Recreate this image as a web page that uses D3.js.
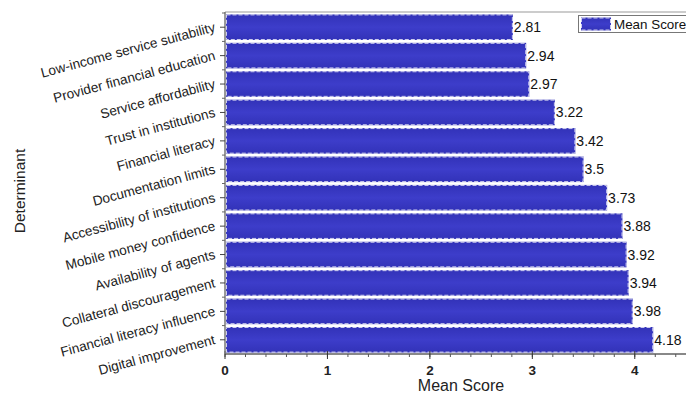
<!DOCTYPE html>
<html><head><meta charset="utf-8">
<script src="https://cdn.jsdelivr.net/npm/d3@7"></script>
<style>body{margin:0;background:#fff}svg{display:block}</style>
</head><body>
<script>
const categories = ["Low-income service suitability","Provider financial education","Service affordability","Trust in institutions","Financial literacy","Documentation limits","Accessibility of institutions","Mobile money confidence","Availability of agents","Collateral discouragement","Financial literacy influence","Digital improvement"];
const values = [2.81,2.94,2.97,3.22,3.42,3.5,3.73,3.88,3.92,3.94,3.98,4.18];
const labels = ["2.81","2.94","2.97","3.22","3.42","3.5","3.73","3.88","3.92","3.94","3.98","4.18"];
const xTicks = [0,1,2,3,4];

const W=686,H=394;
const L=225,R=686,T=13,B=354;
const svg=d3.select("body").append("svg").attr("width",W).attr("height",H)
  .style("font-family","'Liberation Sans',Arial,sans-serif");
const defs=svg.append("defs");
const g=defs.append("linearGradient").attr("id","bg").attr("x1",0).attr("x2",0).attr("y1",0).attr("y2",1);
g.append("stop").attr("offset","0%").attr("stop-color","#3232b8");
g.append("stop").attr("offset","50%").attr("stop-color","#3d3dca");
g.append("stop").attr("offset","100%").attr("stop-color","#3232b8");

const x=d3.scaleLinear().domain([0,4.5]).range([L,R]);
const y=d3.scaleBand().domain(categories).range([T,B]).paddingInner(0.1).paddingOuter(0.05);

// top frame
svg.append("line").attr("x1",L).attr("x2",R).attr("y1",T-1).attr("y2",T-1).attr("stroke","#999").attr("stroke-width",1);

// bars
const bars=svg.append("g");
categories.forEach((c,i)=>{
  bars.append("rect").attr("x",x(0)+1).attr("y",y(c)).attr("width",x(values[i])-x(0)-1).attr("height",y.bandwidth())
    .attr("fill","url(#bg)");
  bars.append("rect").attr("x",x(0)+1.5).attr("y",y(c)+0.5).attr("width",x(values[i])-x(0)-2).attr("height",y.bandwidth()-1)
    .attr("fill","none").attr("stroke","#ffffff").attr("stroke-opacity",0.75).attr("stroke-width",1).attr("stroke-dasharray","4,2");
  svg.append("text").attr("x",x(values[i])+1).attr("y",y(c)+y.bandwidth()/2).attr("dy","0.36em")
    .attr("font-size",14).attr("fill","#111").text(labels[i]);
});

// x axis
const xa=svg.append("g").attr("transform",`translate(0,${B})`);
xa.append("line").attr("x1",L).attr("x2",R).attr("stroke","#888").attr("stroke-width",2);
d3.range(0,4.51,0.2).forEach(v=>{
  xa.append("line").attr("x1",x(v)).attr("x2",x(v)).attr("y1",0).attr("y2",3).attr("stroke","#555");
});
xTicks.forEach(v=>{
  xa.append("line").attr("x1",x(v)).attr("x2",x(v)).attr("y1",-3).attr("y2",5).attr("stroke","#333");
  xa.append("text").attr("x",x(v)).attr("y",21).attr("text-anchor","middle").attr("font-size",13.5).attr("font-weight","bold").attr("fill","#222").text(v);
});
svg.append("text").attr("x",461).attr("y",391).attr("text-anchor","middle").attr("font-size",16).attr("fill","#222").text("Mean Score");

// y axis
const ya=svg.append("g");
ya.append("line").attr("x1",L).attr("x2",L).attr("y1",T-1).attr("y2",B).attr("stroke","#777").attr("stroke-width",1.5);
const step=y.step();
categories.forEach((c,i)=>{
  const cy=y(c)+y.bandwidth()/2;
  ya.append("line").attr("x1",L-5).attr("x2",L).attr("y1",cy).attr("y2",cy).attr("stroke","#444");
  ya.append("line").attr("x1",L-3).attr("x2",L).attr("y1",cy-step/2).attr("y2",cy-step/2).attr("stroke","#666");
  ya.append("text").attr("transform",`translate(${L-9},${cy+4}) rotate(-15)`).attr("text-anchor","end")
    .attr("font-size",13.6).attr("fill","#222").text(c);
});
svg.append("text").attr("transform","translate(25,191) rotate(-90)").attr("text-anchor","middle").attr("font-size",15.5).attr("fill","#222").text("Determinant");

// legend
const lg=svg.append("g");
lg.append("rect").attr("x",578.5).attr("y",15.5).attr("width",120).attr("height",17).attr("fill","#fff").attr("stroke","#777");
lg.append("rect").attr("x",581).attr("y",17.5).attr("width",30).attr("height",13).attr("fill","url(#bg)");
lg.append("rect").attr("x",581.5).attr("y",18).attr("width",29).attr("height",12).attr("fill","none").attr("stroke","#fff").attr("stroke-opacity",0.75).attr("stroke-dasharray","4,2");
lg.append("text").attr("x",614).attr("y",29).attr("font-size",13.4).attr("fill","#111").text("Mean Score");
</script>
</body></html>
